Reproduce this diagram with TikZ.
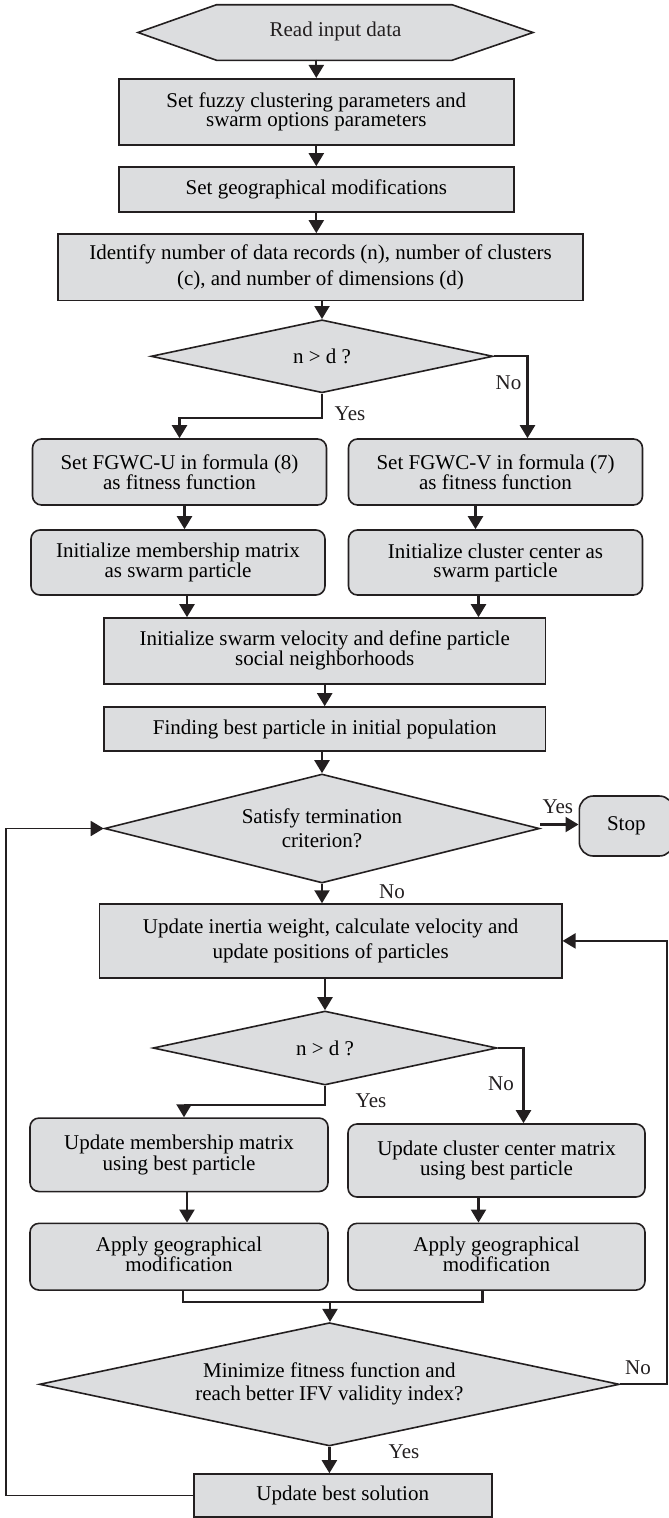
\documentclass[tikz,border=0pt]{standalone}
\usepackage{fontspec}
\setmainfont{Liberation Serif}
\usetikzlibrary{arrows.meta,shapes.geometric}
\definecolor{boxfill}{RGB}{220,221,223}
\definecolor{linec}{RGB}{35,31,32}
\newcommand{\fs}[1]{\fontsize{21}{#1}\selectfont}
\tikzset{
 base/.style={draw=linec, fill=boxfill, line width=1.6pt, inner sep=0pt, align=center, font=\fs{21}},
 rbox/.style={base, rectangle},
 rrbox/.style={base, rectangle, rounded corners=9pt},
 dia/.style={base, diamond},
 arr/.style={draw=linec, line width=2.2pt, -{Triangle[width=15pt,length=13pt]}},
 ln/.style={draw=linec, line width=2.2pt},
 lbl/.style={font=\fs{21}, inner sep=0pt, text=linec}
}
\begin{document}
\begin{tikzpicture}[x=1pt,y=-1pt]
\useasboundingbox (0,0) rectangle (669,1518);
% start hexagon
\fill[boxfill] (138,32.5) -- (216.6,4.7) -- (452,4.7) -- (533,32.5) -- (452,60.3) -- (216.6,60.3) -- cycle;
\draw[linec, line width=1.6pt] (138,32.5) -- (216.6,4.7) -- (452,4.7) -- (533,32.5) -- (452,60.3) -- (216.6,60.3) -- cycle;
\node[inner sep=0pt, minimum width=395pt, minimum height=55.6pt, font=\fs{21}, text=linec] (start) at (335.5,31.5) {Read input data};

\node[rbox, minimum width=395pt, minimum height=66.3pt, font=\fs{19}] (b2) at (316.3,111.9) {Set fuzzy clustering parameters and\\swarm options parameters\vphantom{p}\rule[-5pt]{0pt}{1pt}};
\node[rbox, minimum width=395pt, minimum height=45pt] (b3) at (316.3,189.5) {Set geographical modifications};
\node[rbox, minimum width=525pt, minimum height=66.7pt, font=\fs{26}] (b4) at (320.5,267.3) {Identify number of data records (n), number of clusters\\(c), and number of dimensions (d)};
\node[dia, minimum width=342pt, minimum height=73pt, aspect=4.7] (d1) at (322,356.3) {n > d ?};

\node[rrbox, minimum width=294pt, minimum height=66pt, font=\fs{18}] (b5) at (179.5,472) {Set FGWC-U in formula (8)\\as fitness function};
\node[rrbox, minimum width=294pt, minimum height=66pt, font=\fs{18}] (b6) at (495.5,472) {Set FGWC-V in formula (7)\\as fitness function};
\node[rrbox, minimum width=294pt, minimum height=65pt, font=\fs{19}] (b7) at (178,562.5) {Initialize membership matrix\\as swarm particle};
\node[rrbox, minimum width=294pt, minimum height=65pt, font=\fs{19}] (b8) at (495.5,562.5) {Initialize cluster center as\\swarm particle};

\node[rbox, minimum width=441.7pt, minimum height=66pt, font=\fs{19}] (b9) at (324.7,651) {Initialize swarm velocity and define particle\\social neighborhoods\rule[-5pt]{0pt}{1pt}};
\node[rbox, minimum width=441.7pt, minimum height=44pt] (b10) at (324.7,729) {Finding best particle in initial population};
\node[dia, minimum width=435pt, minimum height=109pt, aspect=4, font=\fs{24}] (d2) at (322,828.5) {Satisfy termination\\criterion?};
\node[base, rectangle, rounded corners=14pt, minimum width=94pt, minimum height=60pt] (stop) at (626.3,826) {Stop};

\node[rbox, minimum width=462.3pt, minimum height=73.7pt, font=\fs{25}] (b11) at (330.6,940.9) {Update inertia weight, calculate velocity and\\update positions of particles};
\node[dia, minimum width=344pt, minimum height=74pt, aspect=4.65] (d3) at (325,1048) {n > d ?};

\node[rrbox, minimum width=298pt, minimum height=73.5pt, font=\fs{21}] (b12) at (179,1154.8) {Update membership matrix\\using best particle\rule[-5pt]{0pt}{1pt}};
\node[rrbox, minimum width=297pt, minimum height=73pt, font=\fs{19}] (b13) at (496.5,1160.5) {Update cluster center matrix\\using best particle};
\node[rrbox, minimum width=298pt, minimum height=66.7pt, font=\fs{18}] (b14) at (179,1256.7) {Apply geographical\\modification\rule[-5pt]{0pt}{1pt}};
\node[rrbox, minimum width=297pt, minimum height=66.7pt, font=\fs{18}] (b15) at (496.5,1256.7) {Apply geographical\\modification\rule[-5pt]{0pt}{1pt}};
\node[dia, minimum width=580pt, minimum height=123.3pt, aspect=4.7, font=\fs{23}] (d4) at (329.4,1384.3) {Minimize fitness function and\\reach better IFV validity index?};
\node[rbox, minimum width=298pt, minimum height=43pt] (b16) at (342.7,1495.5) {Update best solution};

\coordinate (m) at (330,1301.7);
\coordinate (loopL) at (6,1495.5);
\coordinate (loopR) at (667,1384.3);

% connectors
\draw[arr] (start.south -| b2.north) -- (b2.north);
\draw[arr] (b2.south) -- (b3.north);
\draw[arr] (b3.south) -- (b3.south |- b4.north);
\draw[arr] (b4.south -| d1.north) -- (d1.north);
\draw[arr] (d1.south) -- ++(0,24) -| (b5.north);
\draw[arr] (d1.east) -| ([xshift=32pt]b6.north);
\draw[arr] ([xshift=5pt]b5.south) -- ([xshift=5pt]b5.south |- b7.north);
\draw[arr] ([xshift=-20pt]b6.south) -- ([xshift=-20pt]b6.south |- b8.north);
\draw[arr] ([xshift=9pt]b7.south) -- ([xshift=9pt]b7.south |- b9.north);
\draw[arr] ([xshift=-17pt]b8.south) -- ([xshift=-17pt]b8.south |- b9.north);
\draw[arr] (b9.south) -- (b10.north);
\draw[arr] (d2.north |- b10.south) -- (d2.north);
\draw[arr] ([yshift=4pt]d2.east) -- ([yshift=4pt]d2.east -| stop.west);
\draw[arr] (d2.south) -- (d2.south |- b11.north);
\draw[arr] (d3.north |- b11.south) -- (d3.north);
\draw[arr] (d3.south) -- ++(0,19) -| ([xshift=5pt]b12.north);
\draw[arr] (d3.east) -| ([xshift=27pt]b13.north);
\draw[arr] ([xshift=8pt]b12.south) -- ([xshift=8pt]b12.south |- b14.north);
\draw[arr] ([xshift=-18pt]b13.south) -- ([xshift=-18pt]b13.south |- b15.north);
\draw[ln] ([xshift=4pt]b14.south) |- (m) -| ([xshift=-14pt]b15.south);
\draw[arr] (m) -- (d4.north -| m);
\draw[arr] (d4.south) -- (d4.south |- b16.north);
\draw[arr] (d4.east) -- (loopR) |- (b11.east);
\draw[arr, line width=1.8pt] (b16.west) -- (loopL) |- (d2.west);

% labels
\node[lbl] (y1) at (350,414) {Yes};
\node[lbl] (n1) at (508.5,383) {No};
\node[lbl] (y2) at (557.8,807) {Yes};
\node[lbl] (n2) at (392,892) {No};
\node[lbl] (n3) at (501,1084) {No};
\node[lbl] (y3) at (371,1101) {Yes};
\node[lbl] (n4) at (638,1368) {No};
\node[lbl] (y4) at (404,1452) {Yes};
\end{tikzpicture}
\end{document}
